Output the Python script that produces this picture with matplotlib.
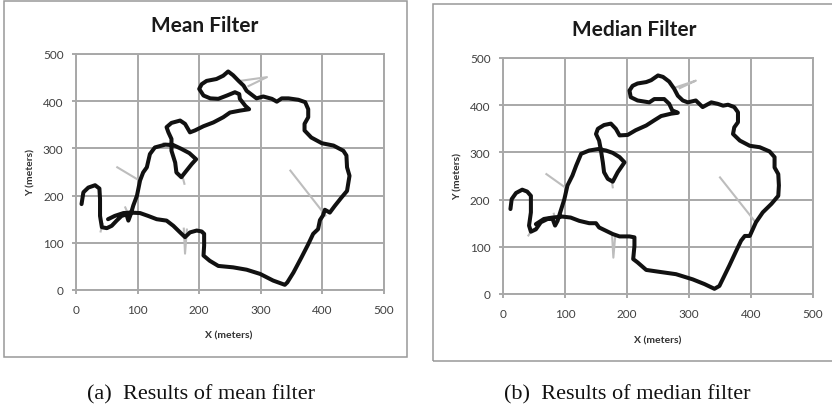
import numpy as np
import matplotlib
matplotlib.use('Agg')
import matplotlib.pyplot as plt
from matplotlib.patches import Rectangle

nan = np.nan

# filtered trajectory, mean filter (metres)
mean_x = [52, 63, 77, 88, 104, 117, 131, 147, 158, 169,
          177, 185, 196, 204, 208, 208, 207, 217, 231, 255,
          277, 299, 320, 339, 343, 353, 366, 377, 385, 393,
          396, 401, 404, 412, 420, 431, 440, 444, 440, 439,
          434, 418, 399, 382, 371, 371, 377, 377, 372, 361,
          345, 334, 326, 318, 304, 293, 277, 272, 264, 255,
          247, 239, 228, 212, 204, 200, 207, 218, 231, 245,
          258, 265, 266, 275, 281, 266, 250, 239, 223, 207,
          193, 185, 177, 169, 155, 147, 150, 155, 155, 161,
          163, 171, 177, 188, 195, 184, 171, 158, 145, 128,
          120, 115, 109, 104, 99, 93, 89, 85, 82, 74,
          66, 58, 50, 42, 39, 39, 38, 31, 20, 12,
          9]
mean_y = [150, 157, 163, 164, 163, 157, 150, 147, 136, 122,
          112, 122, 126, 124, 119, 94, 73, 62, 51, 48,
          43, 34, 20, 11, 16, 37, 69, 97, 119, 129,
          148, 158, 170, 164, 178, 196, 210, 242, 260, 285,
          295, 306, 311, 323, 338, 352, 366, 383, 398, 403,
          406, 406, 399, 405, 410, 406, 422, 433, 443, 455,
          463, 454, 447, 443, 436, 426, 412, 406, 405, 412,
          419, 415, 405, 390, 383, 380, 376, 366, 355, 347,
          338, 334, 352, 359, 354, 345, 334, 320, 295, 270,
          249, 239, 249, 267, 277, 290, 299, 307, 308, 302,
          288, 260, 249, 232, 200, 179, 161, 147, 160, 157,
          147, 136, 131, 133, 157, 193, 215, 222, 217, 207,
          182]

# filtered trajectory, median filter
median_x = [53, 66, 80, 96, 109, 123, 139, 150, 155, 166,
            177, 188, 204, 212, 212, 210, 217, 231, 252, 279,
            306, 325, 341, 349, 365, 376, 384, 390, 398, 408,
            419, 433, 444, 445, 444, 438, 438, 430, 414, 398,
            382, 371, 373, 379, 379, 373, 363, 355, 346, 336,
            322, 311, 298, 290, 282, 276, 268, 258, 250, 239,
            231, 217, 209, 204, 206, 217, 236, 244, 260, 268,
            273, 282, 271, 255, 244, 231, 214, 201, 188, 182,
            174, 163, 153, 150, 155, 158, 161, 163, 169, 177,
            185, 196, 188, 177, 166, 153, 139, 126, 118, 112,
            104, 99, 93, 88, 84, 80, 72, 61, 53, 45,
            42, 45, 45, 39, 31, 21, 14, 12]
median_y = [148, 159, 162, 164, 162, 155, 150, 150, 141, 134,
            127, 122, 122, 120, 102, 74, 67, 51, 47, 42,
            31, 21, 11, 17, 60, 91, 113, 123, 123, 152,
            173, 191, 208, 230, 254, 268, 290, 302, 311, 314,
            325, 339, 353, 364, 385, 396, 401, 399, 403, 406,
            396, 410, 406, 410, 420, 435, 450, 460, 463, 453,
            449, 446, 441, 431, 417, 410, 406, 413, 413, 403,
            389, 384, 382, 377, 368, 357, 347, 337, 336, 350,
            361, 358, 350, 339, 325, 304, 279, 258, 244, 238,
            258, 279, 290, 299, 304, 307, 304, 297, 272, 251,
            230, 201, 176, 155, 145, 159, 159, 152, 137, 132,
            145, 173, 208, 217, 221, 214, 201, 180]

# raw outlier strokes (light grey), nan separates pieces
mean_gray_x = [67, 99, nan, 348, 405, nan, 266, 310, 280, nan, 175, 177, 180, nan,
               173, 176, nan, 80, 84, nan, 43, 40, nan, 142, 150]
mean_gray_y = [260, 235, nan, 253, 158, nan, 443, 451, 432, nan, 130, 77, 128, nan,
               240, 225, nan, 175, 163, nan, 140, 124, nan, 311, 306]
median_gray_x = [70, 101, nan, 350, 408, nan, 279, 311, 285, nan, 176, 178, 181, nan,
                 176, 177, nan, 82, 84, nan, 44, 41, nan, 150, 160]
median_gray_y = [254, 225, nan, 247, 151, nan, 438, 452, 436, nan, 123, 77, 123, nan,
                 235, 226, nan, 170, 160, nan, 130, 124, nan, 306, 309]

ticks = [0, 100, 200, 300, 400, 500]

W, H = 832, 410
fig = plt.figure(figsize=(W / 100, H / 100), dpi=100)


def fx(x):
    return x / W


def fy(y):
    return 1 - y / H


grid_c = '#a8a8a8'
label_font = 'Lato'


def panel(ax_px, box_px, title, title_px, xlab_px, ylab_px, caption, cap_px,
          px_, py_, gx, gy):
    l, t, r, b = ax_px
    ax = fig.add_axes([fx(l), fy(b), (r - l) / W, (b - t) / H])
    ax.set_xlim(0, 500)
    ax.set_ylim(0, 500)
    ax.set_xticks(ticks)
    ax.set_yticks(ticks)
    ax.grid(True, color=grid_c, lw=1.4)
    ax.set_axisbelow(True)
    for s in ax.spines.values():
        s.set_color(grid_c)
        s.set_linewidth(1.4)
    ax.tick_params(direction='out', length=3, width=1.4, color=grid_c,
                   labelcolor='#404040', labelsize=8.5)
    ax.tick_params(axis='x', pad=7)
    ax.tick_params(axis='y', pad=6)
    for lab in ax.get_xticklabels() + ax.get_yticklabels():
        lab.set_family(label_font)
    ax.plot(gx, gy, color='#bdbdbd', lw=1.5, zorder=3)
    ax.plot(px_, py_, color='#111111', lw=2.9, zorder=4,
            solid_joinstyle='round', solid_capstyle='round')

    bl, bt, br, bb = box_px
    fig.patches.append(Rectangle((fx(bl), fy(bb)), (br - bl) / W, (bb - bt) / H,
                                 transform=fig.transFigure, fill=False,
                                 edgecolor='#999999', lw=1.1))
    fig.text(fx(title_px[0]), fy(title_px[1]), title, ha='center', va='center',
             fontsize=15, fontweight='bold', family=label_font, color='#1a1a1a')
    fig.text(fx(xlab_px[0]), fy(xlab_px[1]), 'X (meters)', ha='center', va='center',
             fontsize=7.5, fontweight='bold', family=label_font, color='#333333')
    fig.text(fx(ylab_px[0]), fy(ylab_px[1]), 'Y (meters)', ha='center', va='center',
             rotation=90, fontsize=7.5, fontweight='bold', family=label_font,
             color='#333333')
    fig.text(fx(cap_px[0]), fy(cap_px[1]), caption, ha='center', va='center',
             fontsize=16, family='Liberation Serif', color='#111111')


panel((76, 55, 384, 291), (4, 2, 407, 358), 'Mean Filter', (205, 26),
      (229, 336), (31, 173), '(a)  Results of mean filter', (201, 395),
      mean_x, mean_y, mean_gray_x, mean_gray_y)
panel((503, 59, 813, 295), (433, 5, 840, 362), 'Median Filter', (634, 30),
      (658, 341), (458, 177), '(b)  Results of median filter', (627, 395),
      median_x, median_y, median_gray_x, median_gray_y)

fig.savefig('out.png', dpi=100)
